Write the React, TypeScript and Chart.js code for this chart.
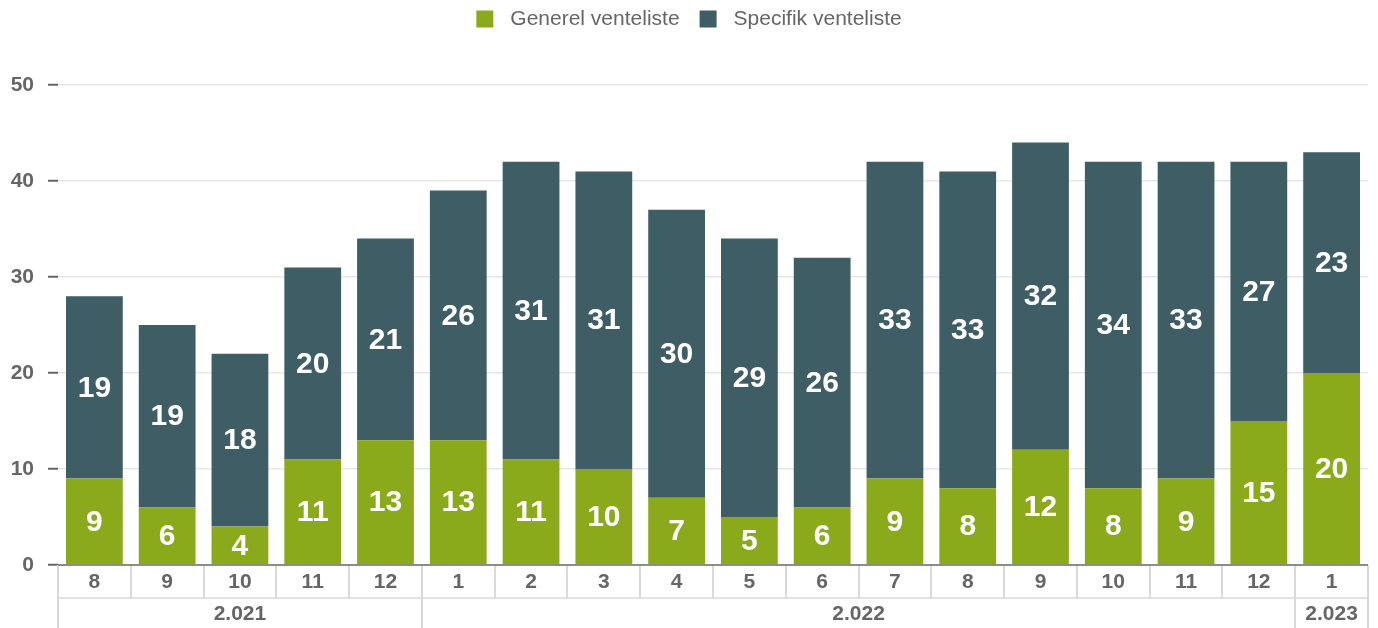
import React, { useEffect, useRef } from "react";
import { Chart, registerables } from "chart.js";

Chart.register(...registerables);

const months = ["8", "9", "10", "11", "12", "1", "2", "3", "4", "5", "6", "7", "8", "9", "10", "11", "12", "1"];
const years = ["2.021", "2.021", "2.021", "2.021", "2.021", "2.022", "2.022", "2.022", "2.022", "2.022", "2.022", "2.022", "2.022", "2.022", "2.022", "2.022", "2.022", "2.023"];
const generel = [9, 6, 4, 11, 13, 13, 11, 10, 7, 5, 6, 9, 8, 12, 8, 9, 15, 20];
const specifik = [19, 19, 18, 20, 21, 26, 31, 31, 30, 29, 26, 33, 33, 32, 34, 33, 27, 23];
const seriesNames = ["Generel venteliste", "Specifik venteliste"];
const seriesColors = ["#8aaa1c", "#3e5d65"];

const FONT = "'Liberation Sans', Arial, sans-serif";

const dataLabelPlugin = {
  id: "dataLabels",
  afterDatasetsDraw(chart: any) {
    const ctx = chart.ctx;
    ctx.save();
    ctx.font = `bold 30px ${FONT}`;
    ctx.fillStyle = "#ffffff";
    ctx.textAlign = "center";
    ctx.textBaseline = "middle";
    chart.data.datasets.forEach((ds: any, di: number) => {
      const meta = chart.getDatasetMeta(di);
      meta.data.forEach((bar: any, i: number) => {
        const v = ds.data[i];
        if (!v) return;
        const yc = (bar.y + bar.base) / 2;
        ctx.fillText(String(v), bar.x, yc + 1);
      });
    });
    ctx.restore();
  },
};

const groupAxisPlugin = {
  id: "groupAxis",
  afterDraw(chart: any) {
    const ctx = chart.ctx;
    const xs = chart.scales.x;
    const area = chart.chartArea;
    const n = months.length;
    const w = (area.right - area.left) / n;
    const top = area.bottom;
    const mid = top + 33;
    const bottom = chart.height;
    ctx.save();
    ctx.strokeStyle = "#d9d9d9";
    ctx.lineWidth = 2;
    for (let i = 0; i <= n; i++) {
      const bx = i < n ? xs.getPixelForValue(i) - w / 2 : xs.getPixelForValue(n - 1) + w / 2;
      ctx.beginPath();
      ctx.moveTo(Math.round(bx), top);
      ctx.lineTo(Math.round(bx), mid);
      ctx.stroke();
    }
    ctx.lineWidth = 1.5;
    ctx.beginPath();
    ctx.moveTo(area.left, mid);
    ctx.lineTo(area.right, mid);
    ctx.stroke();
    ctx.fillStyle = "#666666";
    ctx.font = `bold 21px ${FONT}`;
    ctx.textAlign = "center";
    ctx.textBaseline = "middle";
    for (let i = 0; i < n; i++) {
      ctx.fillText(months[i], xs.getPixelForValue(i), top + 17);
    }
    let start = 0;
    ctx.lineWidth = 2;
    for (let i = 1; i <= n; i++) {
      if (i === n || years[i] !== years[start]) {
        const l = xs.getPixelForValue(start) - w / 2;
        const r = xs.getPixelForValue(i - 1) + w / 2;
        ctx.beginPath();
        ctx.moveTo(Math.round(l), mid);
        ctx.lineTo(Math.round(l), bottom);
        ctx.moveTo(Math.round(r), mid);
        ctx.lineTo(Math.round(r), bottom);
        ctx.stroke();
        ctx.fillText(years[start], (l + r) / 2, mid + 16);
        start = i;
      }
    }
    ctx.strokeStyle = "#8c8c8c";
    ctx.lineWidth = 2;
    ctx.beginPath();
    ctx.moveTo(area.left, top);
    ctx.lineTo(area.right, top);
    ctx.stroke();
    ctx.restore();
  },
};

const legendPlugin = {
  id: "customLegend",
  afterDraw(chart: any) {
    const ctx = chart.ctx;
    ctx.save();
    ctx.font = `21px ${FONT}`;
    const box = 17;
    const gap = 17;
    const itemGap = 20;
    const widths = seriesNames.map((s) => box + gap + ctx.measureText(s).width);
    const total = widths.reduce((a, b) => a + b, 0) + itemGap * (widths.length - 1);
    let x = chart.width / 2 - total / 2;
    const yc = 19;
    ctx.textBaseline = "middle";
    ctx.textAlign = "left";
    seriesNames.forEach((s, i) => {
      ctx.fillStyle = seriesColors[i];
      ctx.fillRect(x, yc - box / 2, box, box);
      ctx.fillStyle = "#666666";
      ctx.fillText(s, x + box + gap, yc);
      x += widths[i] + itemGap;
    });
    ctx.restore();
  },
};

export default function App() {
  const ref = useRef<HTMLCanvasElement | null>(null);
  useEffect(() => {
    document.body.style.margin = "0";
    if (!ref.current) return;
    const chart = new Chart(ref.current, {
      type: "bar",
      data: {
        labels: months,
        datasets: [
          { label: seriesNames[0], data: generel, backgroundColor: seriesColors[0], barPercentage: 0.78, categoryPercentage: 1 },
          { label: seriesNames[1], data: specifik, backgroundColor: seriesColors[1], barPercentage: 0.78, categoryPercentage: 1 },
        ],
      },
      options: {
        animation: false,
        responsive: false,
        maintainAspectRatio: false,
        layout: { padding: { top: 85, right: 10, left: 0, bottom: 0 } },
        plugins: { legend: { display: false }, tooltip: { enabled: false } },
        scales: {
          x: {
            stacked: true,
            grid: { display: false },
            border: { display: false },
            ticks: { display: false },
            afterFit: (s: any) => {
              s.height = 63;
            },
          },
          y: {
            stacked: true,
            min: 0,
            max: 50,
            ticks: {
              stepSize: 10,
              padding: 14,
              color: "#666666",
              font: { family: FONT, size: 21, weight: "bold" },
            },
            grid: {
              color: (c: any) => (c.tick && c.tick.value === 0 ? "rgba(0,0,0,0)" : "#e6e6e6"),
              lineWidth: 1.5,
              tickColor: "#666666",
              tickLength: 10,
              tickWidth: 2,
            },
            border: { display: false },
            afterFit: (s: any) => {
              s.width = 58;
            },
          },
        },
      },
      plugins: [dataLabelPlugin, groupAxisPlugin, legendPlugin],
    });
    return () => chart.destroy();
  }, []);
  return (
    <div style={{ width: 1378, height: 628 }}>
      <canvas ref={ref} width={1378} height={628} style={{ display: "block" }} />
    </div>
  );
}
